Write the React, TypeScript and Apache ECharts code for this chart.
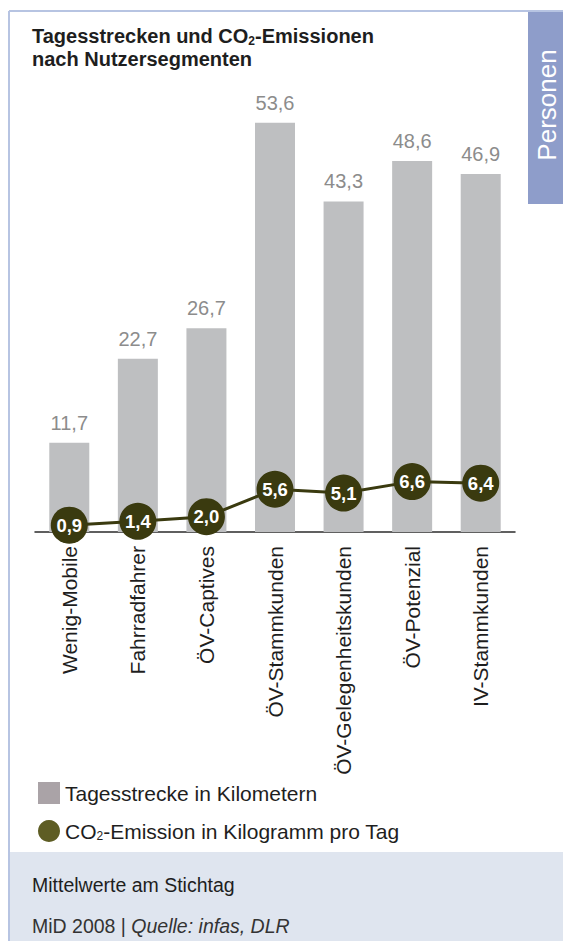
import React, { useEffect, useRef } from "react";
import * as echarts from "echarts";

const categories = [
  "Wenig-Mobile",
  "Fahrradfahrer",
  "ÖV-Captives",
  "ÖV-Stammkunden",
  "ÖV-Gelegenheitskunden",
  "ÖV-Potenzial",
  "IV-Stammkunden",
];
const distanceKm = [11.7, 22.7, 26.7, 53.6, 43.3, 48.6, 46.9];
const co2Kg = [0.9, 1.4, 2.0, 5.6, 5.1, 6.6, 6.4];

const barName = "Tagesstrecke in Kilometern";
const lineName = "CO2-Emission in Kilogramm pro Tag";

const FONT = "'Liberation Sans', Arial, Helvetica, sans-serif";
const comma = (v: number) => v.toFixed(1).replace(".", ",");

export default function App() {
  const ref = useRef<HTMLDivElement>(null);
  useEffect(() => {
    if (!ref.current) return;
    const chart = echarts.init(ref.current, null, { renderer: "svg" });
    chart.setOption({
      animation: false,
      backgroundColor: "#ffffff",
      textStyle: { fontFamily: FONT },
      title: {
        left: 32,
        top: 24,
        padding: 0,
        text: "{b|Tagesstrecken und CO}{s|2}{b|-Emissionen}\n{b|nach Nutzersegmenten}",
        textStyle: {
          rich: {
            b: { fontFamily: FONT, fontSize: 20, fontWeight: "bold", color: "#1e1e1e", lineHeight: 23 },
            s: { fontFamily: FONT, fontSize: 12, fontWeight: "bold", color: "#1e1e1e", lineHeight: 23, padding: [11, 0, 0, 0] },
          },
        },
      },
      legend: {
        orient: "vertical",
        left: 33,
        top: 777,
        itemWidth: 22,
        itemHeight: 22,
        itemGap: 16,
        data: [
          { name: barName, icon: "rect", itemStyle: { color: "#aaa3a7" } },
          { name: lineName, icon: "circle", itemStyle: { color: "#5e5d24" } },
        ],
        formatter: (name: string) =>
          name === lineName
            ? "{t|CO}{s|2}{t|-Emission in Kilogramm pro Tag}"
            : "{t|" + name + "}",
        textStyle: {
          rich: {
            t: { fontFamily: FONT, fontSize: 21, color: "#1e1e1e", lineHeight: 24 },
            s: { fontFamily: FONT, fontSize: 12, color: "#1e1e1e", lineHeight: 24, padding: [10, 0, 0, 0] },
          },
        },
      },
      grid: { left: 35, right: 48, top: 74, bottom: 409, containLabel: false },
      xAxis: {
        type: "category",
        data: categories,
        axisLine: { lineStyle: { color: "#2b2b2b", width: 1.5 } },
        axisTick: { show: false },
        axisLabel: { rotate: 90, fontSize: 21, color: "#1e1e1e", margin: 14, fontFamily: FONT },
      },
      yAxis: [
        { type: "value", min: 0, max: 60, show: false },
        { type: "value", min: 0, max: 60, show: false },
      ],
      series: [
        {
          name: barName,
          type: "bar",
          data: distanceKm,
          barWidth: 40,
          itemStyle: { color: "#bebfc1" },
          label: {
            show: true,
            position: "top",
            distance: 10,
            fontSize: 20,
            color: "#8c8c8c",
            fontFamily: FONT,
            formatter: (p: any) => comma(p.value),
          },
        },
        {
          name: lineName,
          type: "line",
          yAxisIndex: 1,
          data: co2Kg,
          symbol: "circle",
          symbolSize: 37,
          z: 5,
          lineStyle: { color: "#3a3a0f", width: 3 },
          itemStyle: { color: "#3a3a0f" },
          label: {
            show: true,
            position: "inside",
            fontSize: 18.5,
            fontWeight: "bold",
            color: "#ffffff",
            fontFamily: FONT,
            formatter: (p: any) => comma(p.value),
          },
        },
      ],
      graphic: [
        { type: "rect", shape: { x: 10, y: 852, width: 553, height: 89 }, style: { fill: "#dfe5ef" }, z: -10 },
        { type: "line", shape: { x1: 9, y1: 11, x2: 563, y2: 11 }, style: { stroke: "#b7c4e2", lineWidth: 2 } },
        { type: "line", shape: { x1: 9, y1: 11, x2: 9, y2: 941 }, style: { stroke: "#b7c4e2", lineWidth: 2 } },
        { type: "rect", shape: { x: 528, y: 12, width: 40, height: 192 }, style: { fill: "#8e9dca" } },
        {
          type: "text",
          x: 547,
          y: 105,
          rotation: Math.PI / 2,
          style: {
            text: "Personen",
            fill: "#ffffff",
            fontSize: 26,
            fontFamily: FONT,
            align: "center",
            verticalAlign: "middle",
          },
        },
        {
          type: "text",
          x: 32,
          y: 885,
          style: {
            text: "Mittelwerte am Stichtag",
            fill: "#1e1e1e",
            fontSize: 19.5,
            fontFamily: FONT,
            verticalAlign: "middle",
          },
        },
        {
          type: "text",
          x: 32,
          y: 926,
          style: {
            text: "{n|MiD 2008 | }{i|Quelle: infas, DLR}",
            verticalAlign: "middle",
            rich: {
              n: { fontSize: 19.5, fontFamily: FONT, fill: "#333333" },
              i: { fontSize: 19.5, fontFamily: FONT, fontStyle: "italic", fill: "#333333" },
            },
          },
        },
      ],
    });
    return () => chart.dispose();
  }, []);
  return (
    <div
      ref={ref}
      style={{ position: "absolute", left: 0, top: 0, width: 563, height: 941 }}
    />
  );
}
